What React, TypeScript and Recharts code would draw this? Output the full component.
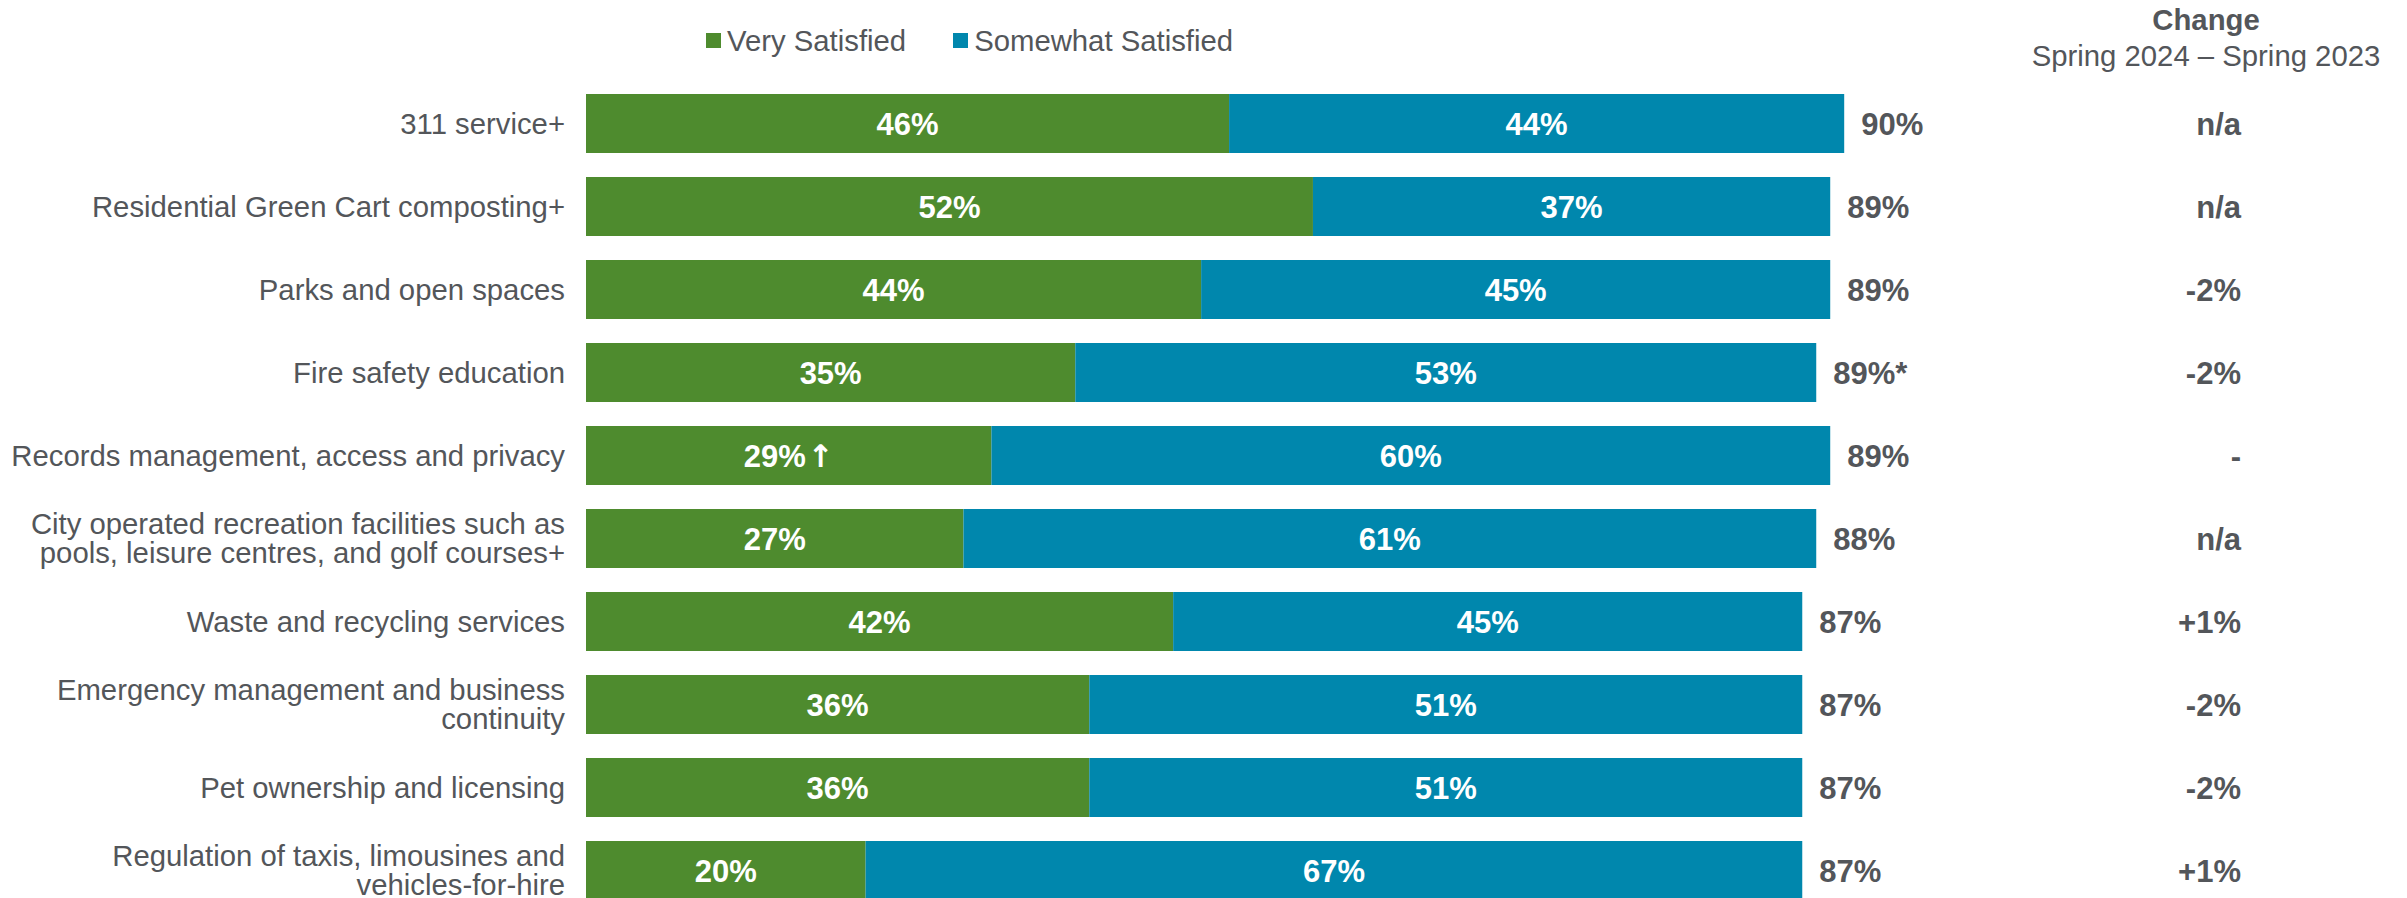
import React from "react";
import { BarChart, Bar, XAxis, YAxis, LabelList, Legend } from "recharts";

const categories = [
  "311 service+",
  "Residential Green Cart composting+",
  "Parks and open spaces",
  "Fire safety education",
  "Records management, access and privacy",
  "City operated recreation facilities such as\npools, leisure centres, and golf courses+",
  "Waste and recycling services",
  "Emergency management and business\ncontinuity",
  "Pet ownership and licensing",
  "Regulation of taxis, limousines and\nvehicles-for-hire",
];
const verySatisfied = [46, 52, 44, 35, 29, 27, 42, 36, 36, 20];
const somewhatSatisfied = [44, 37, 45, 53, 60, 61, 45, 51, 51, 67];
const significantUp = ["", "", "", "", "↑", "", "", "", "", ""];
const totalLabels = ["90%", "89%", "89%", "89%*", "89%", "88%", "87%", "87%", "87%", "87%"];
const changeLabels = ["n/a", "n/a", "-2%", "-2%", "-", "n/a", "+1%", "-2%", "-2%", "+1%"];
const seriesNames = ["Very Satisfied", "Somewhat Satisfied"];
const changeTitle = "Change";
const changeSubtitle = "Spring 2024 – Spring 2023";

const GREEN = "#4E8B2E";
const BLUE = "#0087AD";
const TEXT = "#53565A";
const FONT = "'Liberation Sans', Arial, Helvetica, sans-serif";
const seriesColors = [GREEN, BLUE];

const data = categories.map((name, i) => ({
  name,
  very: verySatisfied[i],
  somewhat: somewhatSatisfied[i],
  veryLabel: `${verySatisfied[i]}%`,
  veryArrow: significantUp[i],
  somewhatLabel: `${somewhatSatisfied[i]}%`,
  totalLabel: totalLabels[i],
  change: changeLabels[i],
}));

const CategoryTick = (props: any) => {
  const { x, y, payload } = props;
  const lines = String(payload.value).split("\n");
  const lh = 29;
  return (
    <text x={x - 21} y={y} textAnchor="end" fontSize={29.3} fill={TEXT} fontFamily={FONT}>
      {lines.map((ln: string, i: number) => (
        <tspan key={i} x={x - 21} y={y + 10.4 + (i - (lines.length - 1) / 2) * lh}>
          {ln}
        </tspan>
      ))}
    </text>
  );
};

const ChangeTick = (props: any) => {
  const { x, y, payload } = props;
  return (
    <text
      x={x + 257}
      y={y + 11}
      textAnchor="end"
      fontSize={31}
      fontWeight="bold"
      fill={TEXT}
      fontFamily={FONT}
    >
      {changeLabels[payload.index]}
    </text>
  );
};

const VeryLabel = (props: any) => {
  const { x, y, width, height, index } = props;
  const cx = Number(x) + Number(width) / 2;
  const cy = Number(y) + Number(height) / 2;
  const arrow = significantUp[index] || "";
  return (
    <text
      x={cx}
      y={cy + 11}
      textAnchor="middle"
      fontSize={31}
      fontWeight="bold"
      fill="#FFFFFF"
      fontFamily={FONT}
    >
      {`${verySatisfied[index]}%`}
      {arrow ? (
        <tspan fontFamily="'DejaVu Sans', sans-serif" fontWeight="bold" fontSize={31} dx={2}>
          {arrow}
        </tspan>
      ) : null}
    </text>
  );
};

const renderLegend = () => {
  return (
    <div style={{ position: "relative", height: 82, width: 2407 }}>
      <div
        style={{
          position: "absolute",
          left: 706,
          top: 25.5,
          display: "flex",
          alignItems: "center",
          fontSize: 29.3,
          lineHeight: "29px",
          color: TEXT,
          fontFamily: FONT,
          whiteSpace: "nowrap",
        }}
      >
        {seriesNames.map((nm, i) => (
          <div
            key={i}
            style={{ display: "flex", alignItems: "center", marginRight: i === 0 ? 47 : 0 }}
          >
            <span
              style={{
                display: "inline-block",
                width: 15,
                height: 15,
                background: seriesColors[i],
                marginRight: 6,
              }}
            />
            <span>{nm}</span>
          </div>
        ))}
      </div>
    </div>
  );
};

export default function App() {
  return (
    <div
      style={{
        position: "relative",
        width: 2407,
        height: 898,
        overflow: "hidden",
        background: "#fff",
        fontFamily: FONT,
      }}
    >
      <style>{`html,body{margin:0;padding:0;overflow:hidden;background:#fff;}`}</style>
      <div
        style={{
          position: "absolute",
          left: 2006,
          width: 400,
          top: 5,
          textAlign: "center",
          color: TEXT,
          fontSize: 29.3,
          lineHeight: "29px",
          fontWeight: "bold",
          whiteSpace: "nowrap",
        }}
      >
        {changeTitle}
      </div>
      <div
        style={{
          position: "absolute",
          left: 2006,
          width: 400,
          top: 40.5,
          textAlign: "center",
          color: TEXT,
          fontSize: 29.3,
          lineHeight: "29px",
          whiteSpace: "nowrap",
        }}
      >
        {changeSubtitle}
      </div>
      <div style={{ position: "absolute", left: 0, top: 0 }}>
        <BarChart
          width={2407}
          height={912}
          data={data}
          layout="vertical"
          margin={{ top: 82, right: 0, bottom: 0, left: 0 }}
        >
          <XAxis type="number" domain={[0, 100]} hide />
          <YAxis
            yAxisId="left"
            type="category"
            dataKey="name"
            width={586}
            axisLine={false}
            tickLine={false}
            tickSize={0}
            tickMargin={0}
            interval={0}
            tick={<CategoryTick />}
          />
          <YAxis
            yAxisId="right"
            orientation="right"
            type="category"
            dataKey="name"
            width={423}
            axisLine={false}
            tickLine={false}
            tickSize={0}
            tickMargin={0}
            interval={0}
            tick={<ChangeTick />}
          />
          <Legend
            layout="horizontal"
            verticalAlign="middle"
            align="center"
            wrapperStyle={{ top: 0, left: 0, width: 2407, height: 82 }}
            content={renderLegend}
          />
          <Bar
            yAxisId="left"
            dataKey="very"
            name={seriesNames[0]}
            stackId="s"
            fill={GREEN}
            barSize={59}
            isAnimationActive={false}
          >
            <LabelList dataKey="veryLabel" content={<VeryLabel />} />
          </Bar>
          <Bar
            yAxisId="left"
            dataKey="somewhat"
            name={seriesNames[1]}
            stackId="s"
            fill={BLUE}
            barSize={59}
            isAnimationActive={false}
          >
            <LabelList
              dataKey="somewhatLabel"
              position="center"
              fill="#FFFFFF"
              fontSize={31}
              fontWeight="bold"
              fontFamily={FONT}
            />
            <LabelList
              dataKey="totalLabel"
              position="right"
              offset={17}
              fill={TEXT}
              fontSize={31}
              fontWeight="bold"
              fontFamily={FONT}
            />
          </Bar>
        </BarChart>
      </div>
    </div>
  );
}
